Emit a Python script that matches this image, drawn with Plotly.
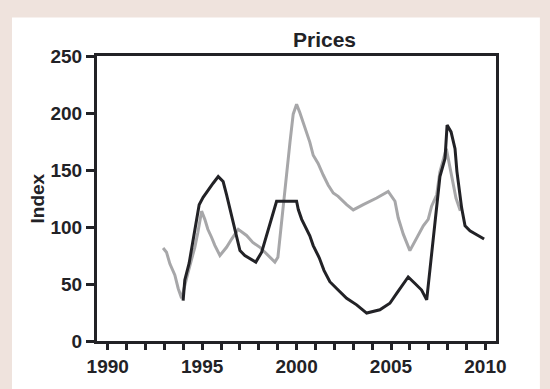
import plotly.graph_objects as go

# ---- data (decimal years, index values) ----
grey_x = [1992.93, 1993.11, 1993.29, 1993.55, 1993.73, 1993.91, 1994.25, 1994.61, 1994.77, 1994.97,
          1995.14, 1995.30, 1995.50, 1995.67, 1995.94, 1996.29, 1996.56, 1996.91, 1997.35, 1997.68,
          1998.06, 1998.41, 1998.85, 1999.01, 1999.11, 1999.29, 1999.47, 1999.65, 1999.82, 2000.00,
          2000.17, 2000.35, 2000.53, 2000.70, 2000.88, 2001.14, 2001.41, 2001.67, 2001.94, 2002.20,
          2002.65, 2003.00, 2003.53, 2004.24, 2004.85, 2005.21, 2005.38, 2005.65, 2006.00, 2006.36,
          2006.71, 2006.97, 2007.15, 2007.42, 2007.59, 2007.93, 2008.18, 2008.44, 2008.67]
grey_y = [81.6, 77.9, 67.7, 58.0, 46.1, 37.5, 60.0, 82.2, 95.2, 113.9,
          106.7, 98.0, 90.8, 83.9, 75.0, 82.2, 89.4, 98.0, 92.6, 86.5,
          82.2, 76.4, 69.2, 73.5, 90.0, 115.0, 148.5, 174.5, 199.0, 207.6,
          200.4, 191.8, 184.5, 174.5, 162.9, 155.7, 145.6, 136.9, 129.8, 126.9,
          119.6, 115.0, 119.6, 125.4, 131.2, 122.6, 108.1, 93.7, 79.3, 90.8,
          101.0, 106.7, 118.3, 128.3, 148.5, 168.7, 148.8, 125.4, 114.2]

black_x = [1993.99, 1994.08, 1994.31, 1994.49, 1994.66, 1994.84, 1995.05, 1995.32, 1995.58, 1995.85,
           1996.11, 1996.29, 1996.47, 1996.64, 1996.82, 1997.00, 1997.26, 1997.53, 1997.84, 1998.15,
           1998.41, 1998.59, 1998.76, 1998.94, 2000.00, 2000.09, 2000.27, 2000.44, 2000.70, 2000.88,
           2001.20, 2001.45, 2001.76, 2002.12, 2002.65, 2003.18, 2003.71, 2004.41, 2004.94, 2005.30,
           2005.91, 2006.27, 2006.62, 2006.89, 2007.03, 2007.24, 2007.42, 2007.59, 2007.86, 2007.97,
           2008.18, 2008.39, 2008.49, 2008.74, 2008.92, 2009.18, 2009.54, 2009.93]
black_y = [35.5, 53.6, 68.3, 85.0, 101.0, 119.6, 126.0, 132.6, 138.4, 144.2,
           139.9, 128.3, 115.3, 103.8, 90.8, 79.3, 75.0, 72.1, 69.2, 77.9,
           92.3, 103.8, 113.9, 122.6, 122.6, 115.3, 106.7, 101.0, 92.3, 83.7,
           73.0, 62.0, 52.0, 46.1, 37.5, 31.7, 24.5, 27.4, 33.1, 41.8,
           56.2, 50.4, 44.7, 36.1, 57.7, 85.0, 113.9, 144.2, 160.0, 189.4,
           183.4, 168.7, 148.8, 116.8, 101.0, 96.6, 93.2, 89.4]

years = list(range(1990, 2011))
year_labels = [str(y) if y % 5 == 0 else "" for y in years]
y_ticks = [0, 50, 100, 150, 200, 250]

title_text = "Prices"
y_title = "Index"

ink = "#222226"
font_family = "Liberation Sans, Arial, sans-serif"

fig = go.Figure()
fig.add_trace(go.Scatter(x=grey_x, y=grey_y, mode="lines",
                         line=dict(color="#a7a7a9", width=3), showlegend=False))
fig.add_trace(go.Scatter(x=black_x, y=black_y, mode="lines",
                         line=dict(color=ink, width=3), showlegend=False))

fig.update_layout(
    width=550, height=389,
    margin=dict(l=97, r=54, t=56, b=44),
    paper_bgcolor="#efe3dd",
    plot_bgcolor="white",
    font=dict(family=font_family, color=ink),
    shapes=[dict(type="rect", xref="paper", yref="paper",
                 x0=-0.213, x1=1.110, y0=-0.20, y1=1.135,
                 fillcolor="white", line=dict(width=0), layer="below")],
    annotations=[
        dict(text=f"<b>{title_text}</b>", xref="paper", yref="paper",
             x=0.569, y=1.059, showarrow=False, font=dict(size=21, color=ink),
             xanchor="center", yanchor="middle"),
        dict(text=f"<b>{y_title}</b>", xref="paper", yref="paper",
             x=-0.148, y=0.50, showarrow=False, textangle=-90,
             font=dict(size=19, color=ink), xanchor="center", yanchor="middle"),
    ],
)

fig.update_xaxes(
    range=[1989.43, 2010.56],
    tickmode="array", tickvals=years, ticktext=year_labels,
    ticks="outside", ticklen=6, tickwidth=3, tickcolor=ink,
    showline=True, linecolor=ink, linewidth=3, mirror=True,
    showgrid=False, zeroline=False,
    tickfont=dict(size=19, color=ink, family=font_family, weight="bold"),
)
fig.update_yaxes(
    range=[0, 250],
    tickmode="array", tickvals=y_ticks,
    ticks="outside", ticklen=8, tickwidth=3, tickcolor=ink,
    showline=True, linecolor=ink, linewidth=3, mirror=True,
    showgrid=False, zeroline=False,
    tickfont=dict(size=19, color=ink, family=font_family, weight="bold"),
)

fig.write_html("out.html",
               config={"displayModeBar": False},
               post_script="document.body.style.margin='0';"
                           "document.body.style.background='#efe3dd';")
